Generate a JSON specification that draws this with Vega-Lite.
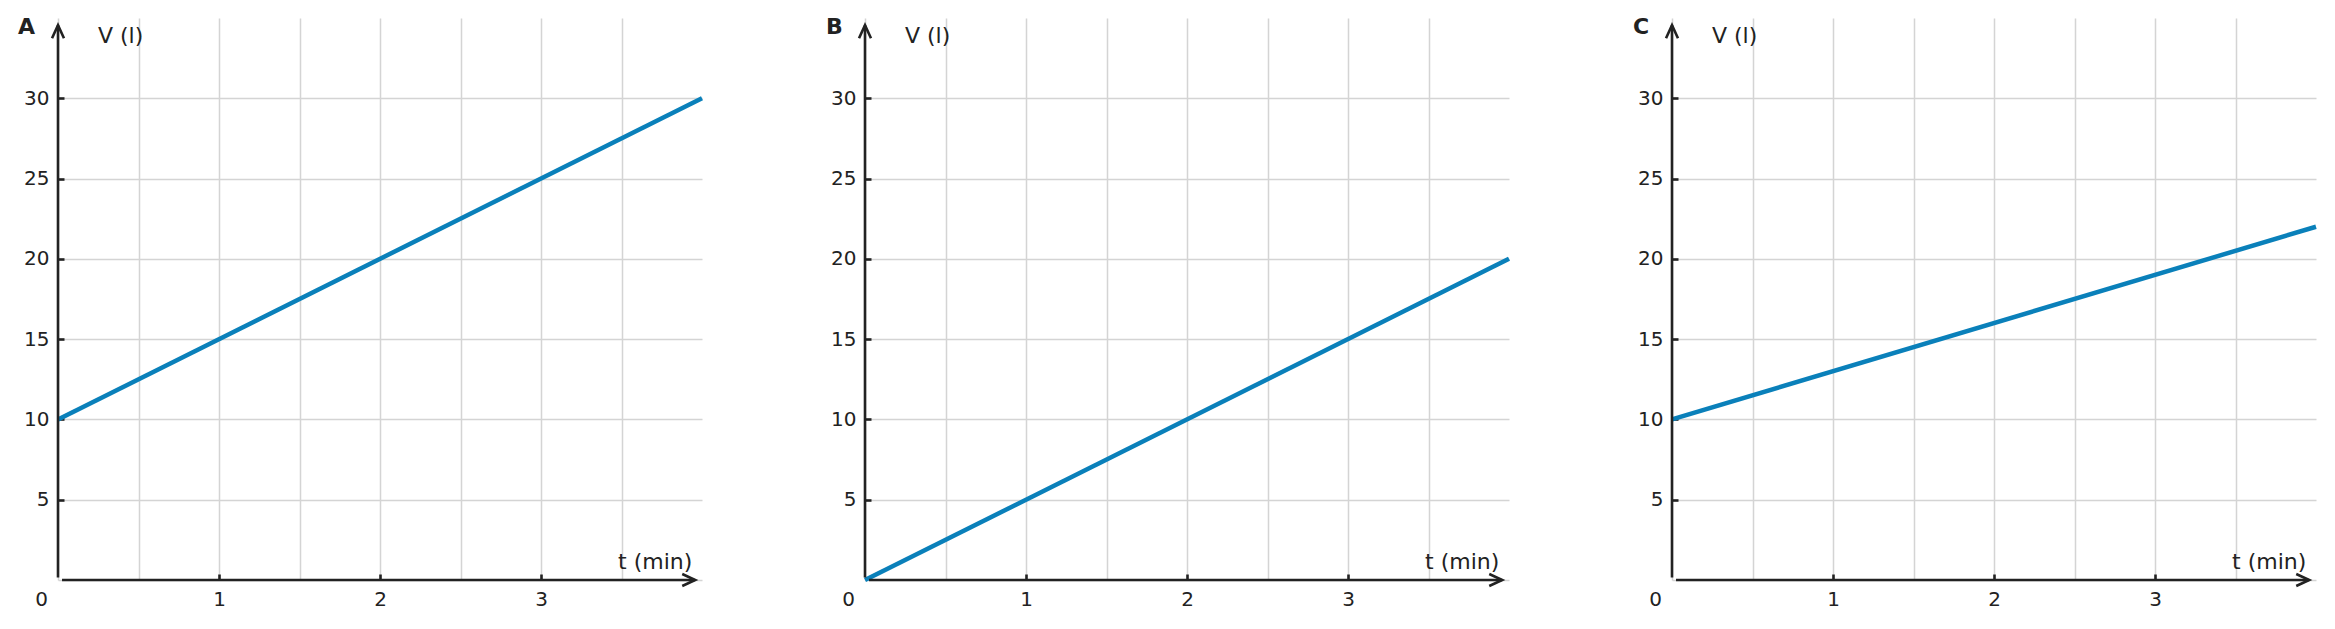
{
  "$schema": "https://vega.github.io/schema/vega-lite/v6.json",
  "background": "white",
  "padding": {"left": 18, "top": 16, "right": 10, "bottom": 10},
  "data": {
    "values": [
      {"panel": "A", "t": 0, "V": 10},
      {"panel": "A", "t": 4, "V": 30},
      {"panel": "B", "t": 0, "V": 0},
      {"panel": "B", "t": 4, "V": 20},
      {"panel": "C", "t": 0, "V": 10},
      {"panel": "C", "t": 4, "V": 22}
    ]
  },
  "spacing": 115,
  "hconcat": [
    {
      "width": 644,
      "height": 562,
      "transform": [{"filter": "datum.panel === 'A'"}],
      "layer": [
        {
          "mark": {"type": "line", "color": "#0a80ba", "strokeWidth": 4.5},
          "encoding": {
            "x": {
              "field": "t", "type": "quantitative", "title": null,
              "scale": {"domain": [0, 4], "nice": false, "zero": false},
              "axis": {
                "values": [0, 0.5, 1, 1.5, 2, 2.5, 3, 3.5],
                "labelExpr": "datum.value % 1 == 0 ? format(datum.value, 'd') : ''",
                "tickOpacity": {"condition": {"test": "datum.value % 1 != 0 || datum.value == 0", "value": 0}, "value": 1},
                "labelOffset": {"condition": {"test": "datum.value == 0", "value": -17}, "value": 0}
              }
            },
            "y": {
              "field": "V", "type": "quantitative", "title": null,
              "scale": {"domain": [0, 35], "nice": false},
              "axis": {
                "values": [0, 5, 10, 15, 20, 25, 30],
                "labelExpr": "datum.value == 0 ? '' : format(datum.value, 'd')",
                "tickOpacity": {"condition": {"test": "datum.value == 0", "value": 0}, "value": 1}
              }
            }
          }
        },
        {
          "data": {"values": [{}]},
          "mark": {"type": "rule", "color": "#222222", "strokeWidth": 2.6},
          "encoding": {"x": {"datum": 0.025}, "x2": {"datum": 3.955}, "y": {"datum": 0}}
        },
        {
          "data": {"values": [{}]},
          "mark": {"type": "rule", "color": "#222222", "strokeWidth": 2.6},
          "encoding": {"x": {"datum": 0}, "y": {"datum": 0.15}, "y2": {"datum": 34.55}}
        },
        {
          "data": {"values": [{}]},
          "mark": {"type": "point", "shape": "M-1,-0.46L0,0L-1,0.46", "size": 676, "filled": false, "stroke": "#222222", "strokeWidth": 2.6, "opacity": 1},
          "encoding": {"x": {"datum": 3.958}, "y": {"datum": 0}}
        },
        {
          "data": {"values": [{}]},
          "mark": {"type": "point", "shape": "M-0.46,1L0,0L0.46,1", "size": 676, "filled": false, "stroke": "#222222", "strokeWidth": 2.6, "opacity": 1},
          "encoding": {"x": {"datum": 0}, "y": {"datum": 34.55}}
        },
        {
          "data": {"values": [{}]},
          "mark": {"type": "text", "text": "A", "fontSize": 22, "fontWeight": "bold", "align": "left", "baseline": "alphabetic", "color": "#222222"},
          "encoding": {"x": {"datum": -0.248}, "y": {"datum": 33.98}}
        },
        {
          "data": {"values": [{}]},
          "mark": {"type": "text", "text": "V (l)", "fontSize": 22, "align": "left", "baseline": "alphabetic", "color": "#222222"},
          "encoding": {"x": {"datum": 0.248}, "y": {"datum": 33.42}}
        },
        {
          "data": {"values": [{}]},
          "mark": {"type": "text", "text": "t (min)", "fontSize": 22, "align": "right", "baseline": "alphabetic", "color": "#222222"},
          "encoding": {"x": {"datum": 3.94}, "y": {"datum": 0.68}}
        }
      ]
    },
    {
      "width": 644,
      "height": 562,
      "transform": [{"filter": "datum.panel === 'B'"}],
      "layer": [
        {
          "mark": {"type": "line", "color": "#0a80ba", "strokeWidth": 4.5},
          "encoding": {
            "x": {
              "field": "t", "type": "quantitative", "title": null,
              "scale": {"domain": [0, 4], "nice": false, "zero": false},
              "axis": {
                "values": [0, 0.5, 1, 1.5, 2, 2.5, 3, 3.5],
                "labelExpr": "datum.value % 1 == 0 ? format(datum.value, 'd') : ''",
                "tickOpacity": {"condition": {"test": "datum.value % 1 != 0 || datum.value == 0", "value": 0}, "value": 1},
                "labelOffset": {"condition": {"test": "datum.value == 0", "value": -17}, "value": 0}
              }
            },
            "y": {
              "field": "V", "type": "quantitative", "title": null,
              "scale": {"domain": [0, 35], "nice": false},
              "axis": {
                "values": [0, 5, 10, 15, 20, 25, 30],
                "labelExpr": "datum.value == 0 ? '' : format(datum.value, 'd')",
                "tickOpacity": {"condition": {"test": "datum.value == 0", "value": 0}, "value": 1}
              }
            }
          }
        },
        {
          "data": {"values": [{}]},
          "mark": {"type": "rule", "color": "#222222", "strokeWidth": 2.6},
          "encoding": {"x": {"datum": 0.025}, "x2": {"datum": 3.955}, "y": {"datum": 0}}
        },
        {
          "data": {"values": [{}]},
          "mark": {"type": "rule", "color": "#222222", "strokeWidth": 2.6},
          "encoding": {"x": {"datum": 0}, "y": {"datum": 0.15}, "y2": {"datum": 34.55}}
        },
        {
          "data": {"values": [{}]},
          "mark": {"type": "point", "shape": "M-1,-0.46L0,0L-1,0.46", "size": 676, "filled": false, "stroke": "#222222", "strokeWidth": 2.6, "opacity": 1},
          "encoding": {"x": {"datum": 3.958}, "y": {"datum": 0}}
        },
        {
          "data": {"values": [{}]},
          "mark": {"type": "point", "shape": "M-0.46,1L0,0L0.46,1", "size": 676, "filled": false, "stroke": "#222222", "strokeWidth": 2.6, "opacity": 1},
          "encoding": {"x": {"datum": 0}, "y": {"datum": 34.55}}
        },
        {
          "data": {"values": [{}]},
          "mark": {"type": "text", "text": "B", "fontSize": 22, "fontWeight": "bold", "align": "left", "baseline": "alphabetic", "color": "#222222"},
          "encoding": {"x": {"datum": -0.242}, "y": {"datum": 33.98}}
        },
        {
          "data": {"values": [{}]},
          "mark": {"type": "text", "text": "V (l)", "fontSize": 22, "align": "left", "baseline": "alphabetic", "color": "#222222"},
          "encoding": {"x": {"datum": 0.248}, "y": {"datum": 33.42}}
        },
        {
          "data": {"values": [{}]},
          "mark": {"type": "text", "text": "t (min)", "fontSize": 22, "align": "right", "baseline": "alphabetic", "color": "#222222"},
          "encoding": {"x": {"datum": 3.94}, "y": {"datum": 0.68}}
        }
      ]
    },
    {
      "width": 644,
      "height": 562,
      "transform": [{"filter": "datum.panel === 'C'"}],
      "layer": [
        {
          "mark": {"type": "line", "color": "#0a80ba", "strokeWidth": 4.5},
          "encoding": {
            "x": {
              "field": "t", "type": "quantitative", "title": null,
              "scale": {"domain": [0, 4], "nice": false, "zero": false},
              "axis": {
                "values": [0, 0.5, 1, 1.5, 2, 2.5, 3, 3.5],
                "labelExpr": "datum.value % 1 == 0 ? format(datum.value, 'd') : ''",
                "tickOpacity": {"condition": {"test": "datum.value % 1 != 0 || datum.value == 0", "value": 0}, "value": 1},
                "labelOffset": {"condition": {"test": "datum.value == 0", "value": -17}, "value": 0}
              }
            },
            "y": {
              "field": "V", "type": "quantitative", "title": null,
              "scale": {"domain": [0, 35], "nice": false},
              "axis": {
                "values": [0, 5, 10, 15, 20, 25, 30],
                "labelExpr": "datum.value == 0 ? '' : format(datum.value, 'd')",
                "tickOpacity": {"condition": {"test": "datum.value == 0", "value": 0}, "value": 1}
              }
            }
          }
        },
        {
          "data": {"values": [{}]},
          "mark": {"type": "rule", "color": "#222222", "strokeWidth": 2.6},
          "encoding": {"x": {"datum": 0.025}, "x2": {"datum": 3.955}, "y": {"datum": 0}}
        },
        {
          "data": {"values": [{}]},
          "mark": {"type": "rule", "color": "#222222", "strokeWidth": 2.6},
          "encoding": {"x": {"datum": 0}, "y": {"datum": 0.15}, "y2": {"datum": 34.55}}
        },
        {
          "data": {"values": [{}]},
          "mark": {"type": "point", "shape": "M-1,-0.46L0,0L-1,0.46", "size": 676, "filled": false, "stroke": "#222222", "strokeWidth": 2.6, "opacity": 1},
          "encoding": {"x": {"datum": 3.958}, "y": {"datum": 0}}
        },
        {
          "data": {"values": [{}]},
          "mark": {"type": "point", "shape": "M-0.46,1L0,0L0.46,1", "size": 676, "filled": false, "stroke": "#222222", "strokeWidth": 2.6, "opacity": 1},
          "encoding": {"x": {"datum": 0}, "y": {"datum": 34.55}}
        },
        {
          "data": {"values": [{}]},
          "mark": {"type": "text", "text": "C", "fontSize": 22, "fontWeight": "bold", "align": "left", "baseline": "alphabetic", "color": "#222222"},
          "encoding": {"x": {"datum": -0.242}, "y": {"datum": 33.98}}
        },
        {
          "data": {"values": [{}]},
          "mark": {"type": "text", "text": "V (l)", "fontSize": 22, "align": "left", "baseline": "alphabetic", "color": "#222222"},
          "encoding": {"x": {"datum": 0.248}, "y": {"datum": 33.42}}
        },
        {
          "data": {"values": [{}]},
          "mark": {"type": "text", "text": "t (min)", "fontSize": 22, "align": "right", "baseline": "alphabetic", "color": "#222222"},
          "encoding": {"x": {"datum": 3.94}, "y": {"datum": 0.68}}
        }
      ]
    }
  ],
  "config": {
    "font": "DejaVu Sans",
    "view": {"stroke": null},
    "axis": {
      "domain": false,
      "grid": true,
      "gridColor": "#d4d4d4",
      "gridWidth": 1.5,
      "ticks": true,
      "tickSize": -6,
      "tickWidth": 2.6,
      "tickColor": "#222222",
      "labelFont": "DejaVu Sans",
      "labelFontSize": 20,
      "labelColor": "#222222",
      "labelFlush": false,
      "labelOverlap": false
    },
    "axisX": {"labelPadding": 15},
    "axisY": {"labelPadding": 15}
  }
}
